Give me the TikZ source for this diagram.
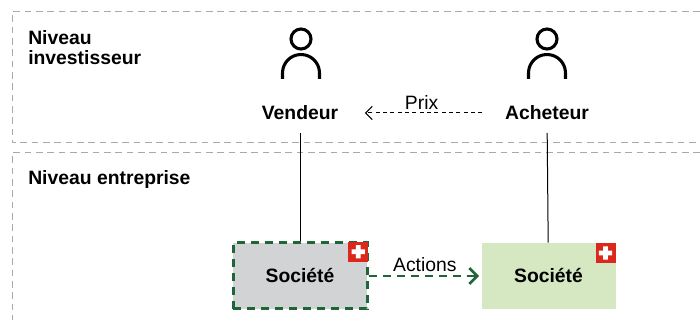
\documentclass[tikz,border=0pt]{standalone}
\usepackage{fontspec}
\setmainfont{Liberation Sans}
\usepackage{tikz}
\usetikzlibrary{arrows.meta,positioning}
\definecolor{regiongray}{HTML}{A7A9AC}
\definecolor{boxgray}{HTML}{D1D3D4}
\definecolor{darkgreen}{HTML}{1E6638}
\definecolor{lightgreen}{HTML}{D5E8C2}
\definecolor{swissred}{HTML}{DA291C}
\tikzset{
  region/.style={draw=regiongray, line width=0.75pt, dash pattern=on 5pt off 3.5pt},
  title/.style={font=\fontsize{14.5}{15}\selectfont\bfseries, align=left, anchor=north west, inner sep=0pt},
  actor/.style={font=\fontsize{14.5}{17}\selectfont\bfseries},
  flow/.style={font=\fontsize{14.5}{17}\selectfont, inner sep=2pt},
  company/.style={font=\fontsize{14.5}{17}\selectfont\bfseries, minimum width=100.5pt, minimum height=49.5pt, inner sep=0pt},
  flag/.style={fill=swissred, minimum size=15pt, inner sep=0pt, anchor=north east,
    path picture={\fill[white, shift={(path picture bounding box.center)}]
      (-1.7pt,-5pt) rectangle (1.7pt,5pt) (-5pt,-1.7pt) rectangle (5pt,1.7pt);}},
  person/.pic={
    \draw[line width=2.3pt] (0,-74) circle (10);
    \draw[line width=2.3pt] (-18.5,-34) -- (-18.5,-40) arc (180:360:18.5) -- (18.5,-34);
  }
}
\begin{document}
\begin{tikzpicture}[x=0.75pt,y=-0.75pt]
  \useasboundingbox (0,0) rectangle (700,320);
  % niveaux
  \draw[region] (700,12) -- (12,12) -- (12,143) -- (700,143);
  \draw[region] (700,153) -- (12,153) -- (12,320);
  \node[title] (niveau_inv) at (28,30) {Niveau\\investisseur};
  \node[title] (niveau_ent) at (28,170) {Niveau entreprise};
  % investisseurs
  \node[actor] (vendeur) at (300,113) {Vendeur};
  \node[actor] (acheteur) at (547,113) {Acheteur};
  \pic at (301,113) {person};
  \pic at (547,113) {person};
  % societes
  \node[company, fill=boxgray, draw=darkgreen, line width=2.25pt, dash pattern=on 6pt off 4.5pt] (societe_a) at (300,276) {Société};
  \node[company, fill=lightgreen] (societe_b) at (548.5,276) {Société};
  \node[flag] (flag_a) at (societe_a.north east) {};
  \node[flag] (flag_b) at (societe_b.north east) {};
  \draw[line width=0.75pt, shorten <=6pt] (vendeur) -- (societe_a);
  \draw[line width=0.75pt, shorten <=6pt] (acheteur) -- (societe_b);
  \draw[-{Straight Barb[length=5pt,width=10pt]}, line width=0.75pt, dash pattern=on 3pt off 2.5pt, shorten <=13.5pt, shorten >=16.5pt]
    (acheteur) -- node[flow, above] {Prix} (vendeur);
  \draw[-{Straight Barb[length=6pt,width=12pt]}, darkgreen, line width=2pt, dash pattern=on 6pt off 4.5pt, shorten >=1.5pt]
    (societe_a) -- node[flow, above, black] {Actions} (societe_b);
\end{tikzpicture}
\end{document}
